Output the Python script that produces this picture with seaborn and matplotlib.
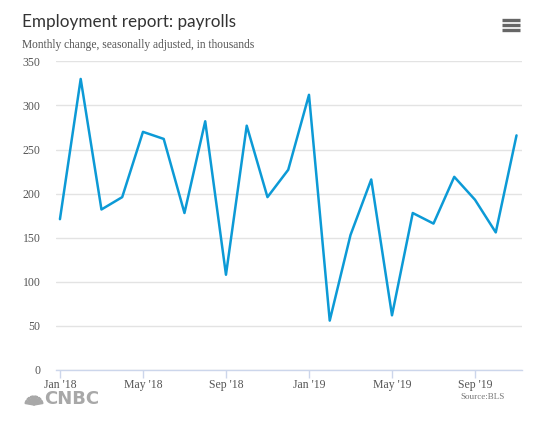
import pandas as pd
import matplotlib
matplotlib.use("Agg")
import matplotlib.pyplot as plt
import seaborn as sns
from matplotlib.lines import Line2D
from matplotlib.patches import Wedge

# === data ===
months = pd.date_range("2018-01-01", "2019-11-01", freq="MS")
payrolls = [171, 330, 182, 196, 270, 262, 178, 282, 108, 277, 196, 227,
            312, 56, 153, 216, 62, 178, 166, 219, 193, 156, 266]
tick_idx = [0, 4, 8, 12, 16, 20]
tick_labels = ["Jan '18", "May '18", "Sep '18", "Jan '19", "May '19", "Sep '19"]
y_ticks = [0, 50, 100, 150, 200, 250, 300, 350]

df = pd.DataFrame({"i": range(len(payrolls)), "value": payrolls})

sns.set_theme(style="white")
plt.rcParams["font.family"] = ["Liberation Serif", "DejaVu Serif"]

W, H = 541, 429
fig = plt.figure(figsize=(W / 100, H / 100), dpi=100)
ax = fig.add_axes([56 / W, 1 - 370 / H, (521.7 - 56) / W, (370 - 61.3) / H])

sns.lineplot(data=df, x="i", y="value", ax=ax, color="#0c9ad6", linewidth=1.8)

ax.set_xlim(-0.19, 22.25)
ax.set_ylim(0, 350)
ax.set_yticks(y_ticks)
ax.set_yticklabels([str(v) for v in y_ticks])
ax.set_xticks(tick_idx)
ax.set_xticklabels(tick_labels)
ax.set_xlabel("")
ax.set_ylabel("")

ax.yaxis.grid(True, color="#e3e3e3", linewidth=1)
ax.xaxis.grid(False)
for side in ["top", "right", "left"]:
    ax.spines[side].set_visible(False)
ax.spines["bottom"].set_color("#ccd6eb")
ax.spines["bottom"].set_linewidth(1)

ax.tick_params(axis="x", which="major", length=6, width=1, color="#ccd6eb",
               direction="out", bottom=True, pad=0.5, labelsize=8.5, labelcolor="#555555")
ax.tick_params(axis="y", length=0, pad=11, labelsize=8.5, labelcolor="#555555")

# titles
fig.text(22 / W, 1 - 22 / H, "Employment report: payrolls", fontsize=12.3,
         family=["Lato", "DejaVu Sans"], color="#333333", va="center", ha="left")
fig.text(22 / W, 1 - 45 / H, "Monthly change, seasonally adjusted, in thousands",
         fontsize=8.3, color="#555555", va="center", ha="left")

# menu icon
for yy in (20, 25, 30):
    fig.add_artist(Line2D([502 / W, 520 / W], [1 - yy / H, 1 - yy / H],
                          color="#666666", linewidth=2.4, solid_capstyle="butt"))

# logo
for ang in [20, 48, 76, 104, 132, 160]:
    fig.add_artist(Wedge((34, H - 405), 9, ang - 10, ang + 10,
                         color="#a8a8a8", transform=None))
fig.text(44 / W, 1 - 399.5 / H, "CNBC", fontsize=13, fontweight="heavy",
         family=["DejaVu Sans"], color="#a8a8a8", va="center", ha="left")
fig.text(505 / W, 1 - 397 / H, "Source:BLS", fontsize=6.5, color="#777777",
         va="center", ha="right")

fig.savefig("out.png", dpi=100, facecolor="white")
